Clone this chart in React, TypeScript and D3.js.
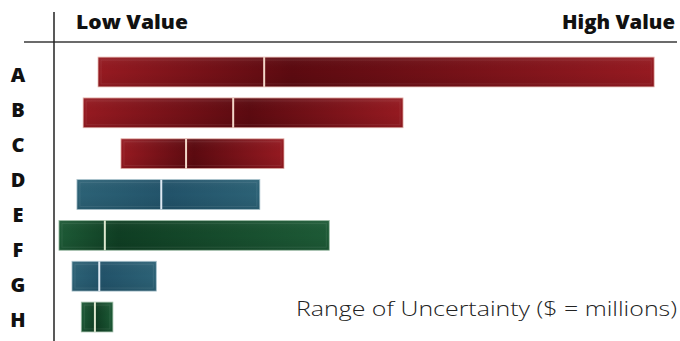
import React from "react";
import * as d3 from "d3";

const categories = ["A", "B", "C", "D", "E", "F", "G", "H"];
const barIds = ["A", "B", "C", "D", "EF", "G", "H"];
const barLow = [7.1, 4.7, 10.8, 3.7, 0.8, 2.9, 4.4];
const barMid = [33.9, 28.9, 21.3, 17.3, 8.2, 7.3, 6.6];
const barHigh = [96.8, 56.3, 37.1, 33.2, 44.4, 16.5, 9.5];
const barGroup = ["red", "red", "red", "blue", "green", "blue", "green"];
const axisLabels = ["Low Value", "High Value"];
const caption = "Range of Uncertainty ($ = millions)";

const W = 680;
const H = 341;

const palette: Record<string, { edge: string; dark: string; marker: string; border: string }> = {
  red: { edge: "#961a21", dark: "#5c0a10", marker: "#f3d6c8", border: "#e8b8b0" },
  blue: { edge: "#2c6276", dark: "#22536a", marker: "#dfe9f3", border: "#a9c2cc" },
  green: { edge: "#1d5a36", dark: "#0f3e23", marker: "#dde8cf", border: "#9fbfa8" },
};

export default function App() {
  const x = d3.scaleLinear().domain([0, 100]).range([54, 674]);
  const yBar = d3.scaleBand<string>().domain(barIds).range([53, 336]).paddingInner(0.27).paddingOuter(0.1);
  const yLab = d3.scalePoint<string>().domain(categories).range([74, 319]);

  const font = "'Open Sans', 'Noto Sans', sans-serif";

  return (
    <svg
      width={W}
      height={H}
      style={{ position: "absolute", left: 0, top: 0, background: "#fff" }}
      fontFamily={font}
    >
      <defs>
        {barIds.map((id, i) => {
          const p = palette[barGroup[i]];
          const lo = barLow[i], mi = barMid[i], hi = barHigh[i];
          const f = (mi - lo) / (hi - lo);
          return (
            <linearGradient key={id} id={`g${i}`} x1="0" x2="1" y1="0" y2="0">
              <stop offset="0" stopColor={p.edge} />
              <stop offset={Math.min(0.9, Math.max(0.15, f + 0.05))} stopColor={p.dark} />
              <stop offset="1" stopColor={p.edge} />
            </linearGradient>
          );
        })}
        <linearGradient id="vshade" x1="0" x2="0" y1="0" y2="1">
          <stop offset="0" stopColor="#fff" stopOpacity="0.06" />
          <stop offset="0.5" stopColor="#000" stopOpacity="0" />
          <stop offset="1" stopColor="#000" stopOpacity="0.08" />
        </linearGradient>
      </defs>

      <line x1={24} x2={677} y1={42} y2={42} stroke="#6b6b6b" strokeWidth={2} />
      <line x1={54} x2={54} y1={12} y2={H} stroke="#222" strokeWidth={1.5} />

      <text x={76} y={28.5} fontSize={18.5} fontWeight={800} fill="#111" textLength={112} lengthAdjust="spacingAndGlyphs">
        {axisLabels[0]}
      </text>
      <text x={562} y={28.5} fontSize={18.5} fontWeight={800} fill="#111" textLength={113} lengthAdjust="spacingAndGlyphs">
        {axisLabels[1]}
      </text>

      {categories.map((c) => (
        <text key={c} x={18} y={yLab(c)} fontSize={20} fontWeight={800} fill="#111" textAnchor="middle" dominantBaseline="central">
          {c}
        </text>
      ))}

      {barIds.map((id, i) => {
        const p = palette[barGroup[i]];
        const y0 = yBar(id)!;
        const h = yBar.bandwidth();
        const x0 = x(barLow[i]);
        const x1 = x(barHigh[i]);
        const xm = x(barMid[i]);
        return (
          <g key={id}>
            <rect x={x0} y={y0} width={x1 - x0} height={h} fill={`url(#g${i})`} stroke={p.border} strokeWidth={0.8} />
            <rect x={x0} y={y0} width={x1 - x0} height={h} fill="url(#vshade)" />
            <rect x={x0 + 3} y={y0 + 3} width={Math.max(0, x1 - x0 - 6)} height={h - 6} fill="none" stroke="#fff" strokeOpacity={0.08} strokeWidth={1} />
            <line x1={xm} x2={xm} y1={y0} y2={y0 + h} stroke={p.marker} strokeWidth={2} />
          </g>
        );
      })}

      <text x={296} y={315.5} fontSize={20.5} fontWeight={300} fill="#222" textLength={381} lengthAdjust="spacingAndGlyphs">
        {caption}
      </text>
    </svg>
  );
}
